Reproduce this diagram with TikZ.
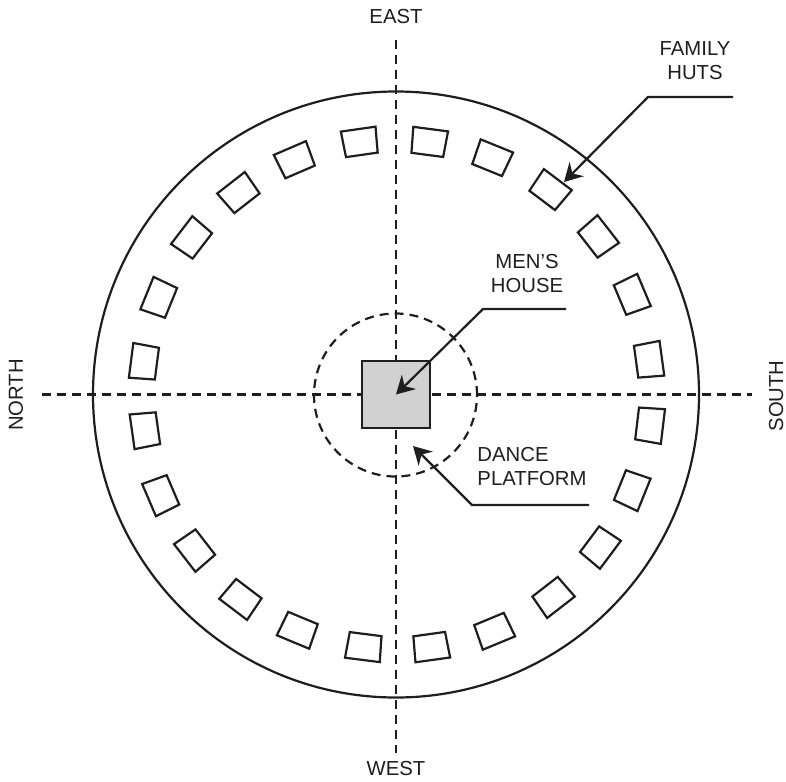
\documentclass[tikz,border=0pt]{standalone}
\usepackage{fontspec}
\setmainfont{Liberation Sans}
\usetikzlibrary{arrows.meta}
\definecolor{ink}{HTML}{1E1E1E}
\tikzset{
  every node/.style={text=ink,font=\fontsize{20.3}{24}\selectfont},
  dashline/.style={draw=ink,line width=2.2pt,dash pattern=on 9pt off 6pt},
  hutbox/.style={draw=ink,line width=2.2pt,line join=miter},
  leader/.style={draw=ink,line width=2.2pt,-{Stealth[length=18pt,width=20pt,inset=6pt]}},
  lbl/.style={align=center,inner sep=0pt},
}
\newcommand{\hutat}[2]{%
  \pgfmathsetmacro{\hang}{atan2(394.5-#2,#1-396)}%
  \begin{scope}[shift={(#1,#2)},x={(1pt,0pt)},y={(0pt,-1pt)},rotate=\hang]
    \draw[hutbox] (13,-17.5) -- (13,17.5) -- (-13,16) -- (-13,-16) -- cycle;
  \end{scope}}
\begin{document}
\begin{tikzpicture}[x=1pt,y=-1pt]
\useasboundingbox (0,0) rectangle (786,781);
\coordinate (ctr) at (396,394.5);
\node[circle,draw=ink,line width=2.2pt,minimum size=606pt,inner sep=0pt] (outer) at (396,394.5) {};
\coordinate (axN) at (42,394.5);
\coordinate (axS) at (752,394.5);
\coordinate (axE) at (396,40);
\coordinate (axW) at (396,753);
\draw[dashline] (axN) -- (axS);
\draw[dashline] (axE) -- (axW);
\node[circle,dashline,minimum size=163pt,inner sep=0pt] (platform) at (395.5,395) {};
\node[rectangle,draw=ink,fill=black!18,line width=2.2pt,minimum width=68pt,minimum height=67pt,inner sep=0pt] (house) at (396,394.5) {};
\hutat{429}{142}\hutat{492}{158}\hutat{550}{190}\hutat{598}{237}\hutat{632}{295}\hutat{649}{360}
\hutat{650}{425}\hutat{632}{490}\hutat{600}{547}\hutat{553}{597}\hutat{494}{631}\hutat{431}{647}
\hutat{364}{647}\hutat{298}{630}\hutat{241}{599}\hutat{195}{550}\hutat{161}{495}\hutat{145}{430}
\hutat{144}{362}\hutat{159}{298}\hutat{192}{238}\hutat{239}{193}\hutat{295}{160}\hutat{360}{142}
\node[lbl] (east) at (396,17) {EAST};
\node[lbl] (west) at (396,769) {WEST};
\node[lbl,rotate=90] (north) at (16,395) {NORTH};
\node[lbl,rotate=90] (south) at (776,396) {SOUTH};
\node[lbl] (family) at (695,61) {FAMILY\\HUTS};
\node[lbl] (mens) at (527,274) {MEN’S\\HOUSE};
\node[lbl,align=left] (dance) at (532,467) {DANCE\\PLATFORM};
\coordinate (famA) at (733,97);
\coordinate (famB) at (648,97);
\coordinate (famT) at (564,182);
\coordinate (menA) at (566,309);
\coordinate (menB) at (483,309);
\coordinate (danA) at (589,505);
\coordinate (danB) at (472,505);
\coordinate (danT) at (413,446);
\draw[leader] (famA) -- (famB) -- (famT);
\draw[leader] (menA) -- (menB) -- (ctr);
\draw[leader] (danA) -- (danB) -- (danT);
\end{tikzpicture}
\end{document}
